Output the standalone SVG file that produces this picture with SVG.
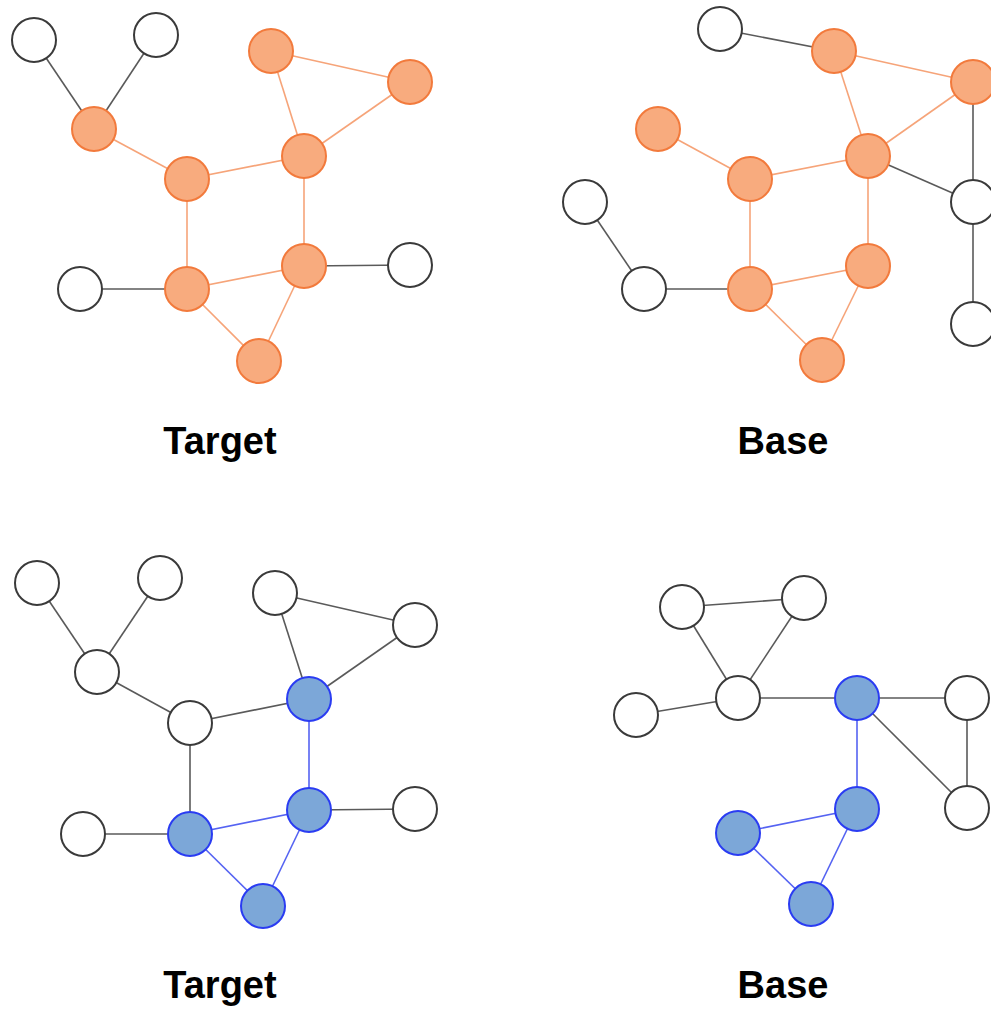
<svg xmlns="http://www.w3.org/2000/svg" width="991" height="1009" viewBox="0 0 991 1009">
  <style>
    .e { stroke-width: 1.6; fill: none; }
    .ek { stroke: #5a5a5a; }
    .eo { stroke: #f6a479; }
    .eb { stroke: #5563f2; }
    .n { stroke-width: 2; }
    .nw { fill: #ffffff; stroke: #3a3a3a; }
    .no { fill: #f8ab7e; stroke: #f27a3c; }
    .nb { fill: #7ca7d8; stroke: #2a3cf2; }
    .lbl { font-family: "Liberation Sans", Arial, Helvetica, sans-serif; font-weight: bold; font-size: 38px; fill: #000; text-anchor: middle; }
  </style>
  <rect x="0" y="0" width="991" height="1009" fill="#ffffff"/>

  <!-- connectors -->
  <g id="connectors">
    <!-- upper left graph -->
    <line class="e ek" x1="34" y1="40" x2="94" y2="129"/>
    <line class="e ek" x1="156" y1="35" x2="94" y2="129"/>
    <line class="e eo" x1="94" y1="129" x2="187" y2="179"/>
    <line class="e eo" x1="187" y1="179" x2="304" y2="156"/>
    <line class="e eo" x1="271" y1="51" x2="304" y2="156"/>
    <line class="e eo" x1="410" y1="82" x2="304" y2="156"/>
    <line class="e eo" x1="271" y1="51" x2="410" y2="82"/>
    <line class="e eo" x1="187" y1="179" x2="187" y2="289"/>
    <line class="e eo" x1="304" y1="156" x2="304" y2="266"/>
    <line class="e eo" x1="187" y1="289" x2="304" y2="266"/>
    <line class="e eo" x1="187" y1="289" x2="259" y2="361"/>
    <line class="e eo" x1="304" y1="266" x2="259" y2="361"/>
    <line class="e ek" x1="80" y1="289" x2="187" y2="289"/>
    <line class="e ek" x1="304" y1="266" x2="410" y2="265"/>

    <!-- upper right graph -->
    <line class="e ek" x1="720" y1="29" x2="834" y2="51"/>
    <line class="e eo" x1="834" y1="51" x2="973" y2="82"/>
    <line class="e eo" x1="834" y1="51" x2="868" y2="156"/>
    <line class="e eo" x1="973" y1="82" x2="868" y2="156"/>
    <line class="e ek" x1="973" y1="82" x2="973" y2="202"/>
    <line class="e ek" x1="868" y1="156" x2="973" y2="202"/>
    <line class="e ek" x1="973" y1="202" x2="973" y2="324"/>
    <line class="e eo" x1="658" y1="129" x2="750" y2="179"/>
    <line class="e eo" x1="750" y1="179" x2="868" y2="156"/>
    <line class="e eo" x1="750" y1="179" x2="750" y2="289"/>
    <line class="e eo" x1="868" y1="156" x2="868" y2="266"/>
    <line class="e eo" x1="750" y1="289" x2="868" y2="266"/>
    <line class="e eo" x1="750" y1="289" x2="822" y2="360"/>
    <line class="e eo" x1="868" y1="266" x2="822" y2="360"/>
    <line class="e ek" x1="585" y1="202" x2="644" y2="289"/>
    <line class="e ek" x1="644" y1="289" x2="750" y2="289"/>

    <!-- lower left graph -->
    <line class="e ek" x1="37" y1="583" x2="97" y2="672"/>
    <line class="e ek" x1="160" y1="578" x2="97" y2="672"/>
    <line class="e ek" x1="97" y1="672" x2="190" y2="723"/>
    <line class="e ek" x1="190" y1="723" x2="309" y2="699"/>
    <line class="e ek" x1="275" y1="593" x2="309" y2="699"/>
    <line class="e ek" x1="415" y1="625" x2="309" y2="699"/>
    <line class="e ek" x1="275" y1="593" x2="415" y2="625"/>
    <line class="e ek" x1="190" y1="723" x2="190" y2="834"/>
    <line class="e eb" x1="309" y1="699" x2="309" y2="810"/>
    <line class="e eb" x1="190" y1="834" x2="309" y2="810"/>
    <line class="e eb" x1="190" y1="834" x2="263" y2="906"/>
    <line class="e eb" x1="309" y1="810" x2="263" y2="906"/>
    <line class="e ek" x1="83" y1="834" x2="190" y2="834"/>
    <line class="e ek" x1="309" y1="810" x2="415" y2="809"/>

    <!-- lower right graph -->
    <line class="e ek" x1="682" y1="607" x2="804" y2="598"/>
    <line class="e ek" x1="682" y1="607" x2="738" y2="698"/>
    <line class="e ek" x1="804" y1="598" x2="738" y2="698"/>
    <line class="e ek" x1="636" y1="715" x2="738" y2="698"/>
    <line class="e ek" x1="738" y1="698" x2="857" y2="698"/>
    <line class="e ek" x1="857" y1="698" x2="967" y2="698"/>
    <line class="e ek" x1="857" y1="698" x2="967" y2="808"/>
    <line class="e ek" x1="967" y1="698" x2="967" y2="808"/>
    <line class="e eb" x1="857" y1="698" x2="857" y2="809"/>
    <line class="e eb" x1="857" y1="809" x2="738" y2="833"/>
    <line class="e eb" x1="738" y1="833" x2="811" y2="904"/>
    <line class="e eb" x1="857" y1="809" x2="811" y2="904"/>
  </g>

  <!-- upper left graph nodes -->
  <g id="t1"><circle class="n nw" cx="34" cy="40" r="22"/></g>
  <g id="t2"><circle class="n nw" cx="156" cy="35" r="22"/></g>
  <g id="t3"><circle class="n no" cx="94" cy="129" r="22"/></g>
  <g id="t4"><circle class="n no" cx="187" cy="179" r="22"/></g>
  <g id="t5"><circle class="n no" cx="271" cy="51" r="22"/></g>
  <g id="t6"><circle class="n no" cx="410" cy="82" r="22"/></g>
  <g id="t7"><circle class="n no" cx="304" cy="156" r="22"/></g>
  <g id="t8"><circle class="n no" cx="304" cy="266" r="22"/></g>
  <g id="t9"><circle class="n no" cx="187" cy="289" r="22"/></g>
  <g id="t10"><circle class="n nw" cx="80" cy="289" r="22"/></g>
  <g id="t11"><circle class="n nw" cx="410" cy="265" r="22"/></g>
  <g id="t12"><circle class="n no" cx="259" cy="361" r="22"/></g>

  <!-- upper right graph nodes -->
  <g id="b1"><circle class="n nw" cx="720" cy="29" r="22"/></g>
  <g id="b2"><circle class="n no" cx="834" cy="51" r="22"/></g>
  <g id="b3"><circle class="n no" cx="973" cy="82" r="22"/></g>
  <g id="b4"><circle class="n no" cx="658" cy="129" r="22"/></g>
  <g id="b5"><circle class="n no" cx="750" cy="179" r="22"/></g>
  <g id="b6"><circle class="n no" cx="868" cy="156" r="22"/></g>
  <g id="b7"><circle class="n nw" cx="973" cy="202" r="22"/></g>
  <g id="b8"><circle class="n nw" cx="973" cy="324" r="22"/></g>
  <g id="b9"><circle class="n nw" cx="585" cy="202" r="22"/></g>
  <g id="b10"><circle class="n nw" cx="644" cy="289" r="22"/></g>
  <g id="b11"><circle class="n no" cx="750" cy="289" r="22"/></g>
  <g id="b12"><circle class="n no" cx="868" cy="266" r="22"/></g>
  <g id="b13"><circle class="n no" cx="822" cy="360" r="22"/></g>

  <!-- lower left graph nodes -->
  <g id="T1"><circle class="n nw" cx="37" cy="583" r="22"/></g>
  <g id="T2"><circle class="n nw" cx="160" cy="578" r="22"/></g>
  <g id="T3"><circle class="n nw" cx="97" cy="672" r="22"/></g>
  <g id="T4"><circle class="n nw" cx="190" cy="723" r="22"/></g>
  <g id="T5"><circle class="n nw" cx="275" cy="593" r="22"/></g>
  <g id="T6"><circle class="n nw" cx="415" cy="625" r="22"/></g>
  <g id="T7"><circle class="n nb" cx="309" cy="699" r="22"/></g>
  <g id="T8"><circle class="n nb" cx="309" cy="810" r="22"/></g>
  <g id="T9"><circle class="n nb" cx="190" cy="834" r="22"/></g>
  <g id="T10"><circle class="n nw" cx="83" cy="834" r="22"/></g>
  <g id="T11"><circle class="n nw" cx="415" cy="809" r="22"/></g>
  <g id="T12"><circle class="n nb" cx="263" cy="906" r="22"/></g>

  <!-- lower right graph nodes -->
  <g id="B1"><circle class="n nw" cx="682" cy="607" r="22"/></g>
  <g id="B2"><circle class="n nw" cx="804" cy="598" r="22"/></g>
  <g id="B3"><circle class="n nw" cx="636" cy="715" r="22"/></g>
  <g id="B4"><circle class="n nw" cx="738" cy="698" r="22"/></g>
  <g id="B5"><circle class="n nb" cx="857" cy="698" r="22"/></g>
  <g id="B6"><circle class="n nw" cx="967" cy="698" r="22"/></g>
  <g id="B7"><circle class="n nw" cx="967" cy="808" r="22"/></g>
  <g id="B8"><circle class="n nb" cx="857" cy="809" r="22"/></g>
  <g id="B9"><circle class="n nb" cx="738" cy="833" r="22"/></g>
  <g id="B10"><circle class="n nb" cx="811" cy="904" r="22"/></g>

  <!-- captions -->
  <g id="captions">
    <text class="lbl" x="220" y="454">Target</text>
    <text class="lbl" x="783" y="454">Base</text>
    <text class="lbl" x="220" y="998">Target</text>
    <text class="lbl" x="783" y="998">Base</text>
  </g>
</svg>
